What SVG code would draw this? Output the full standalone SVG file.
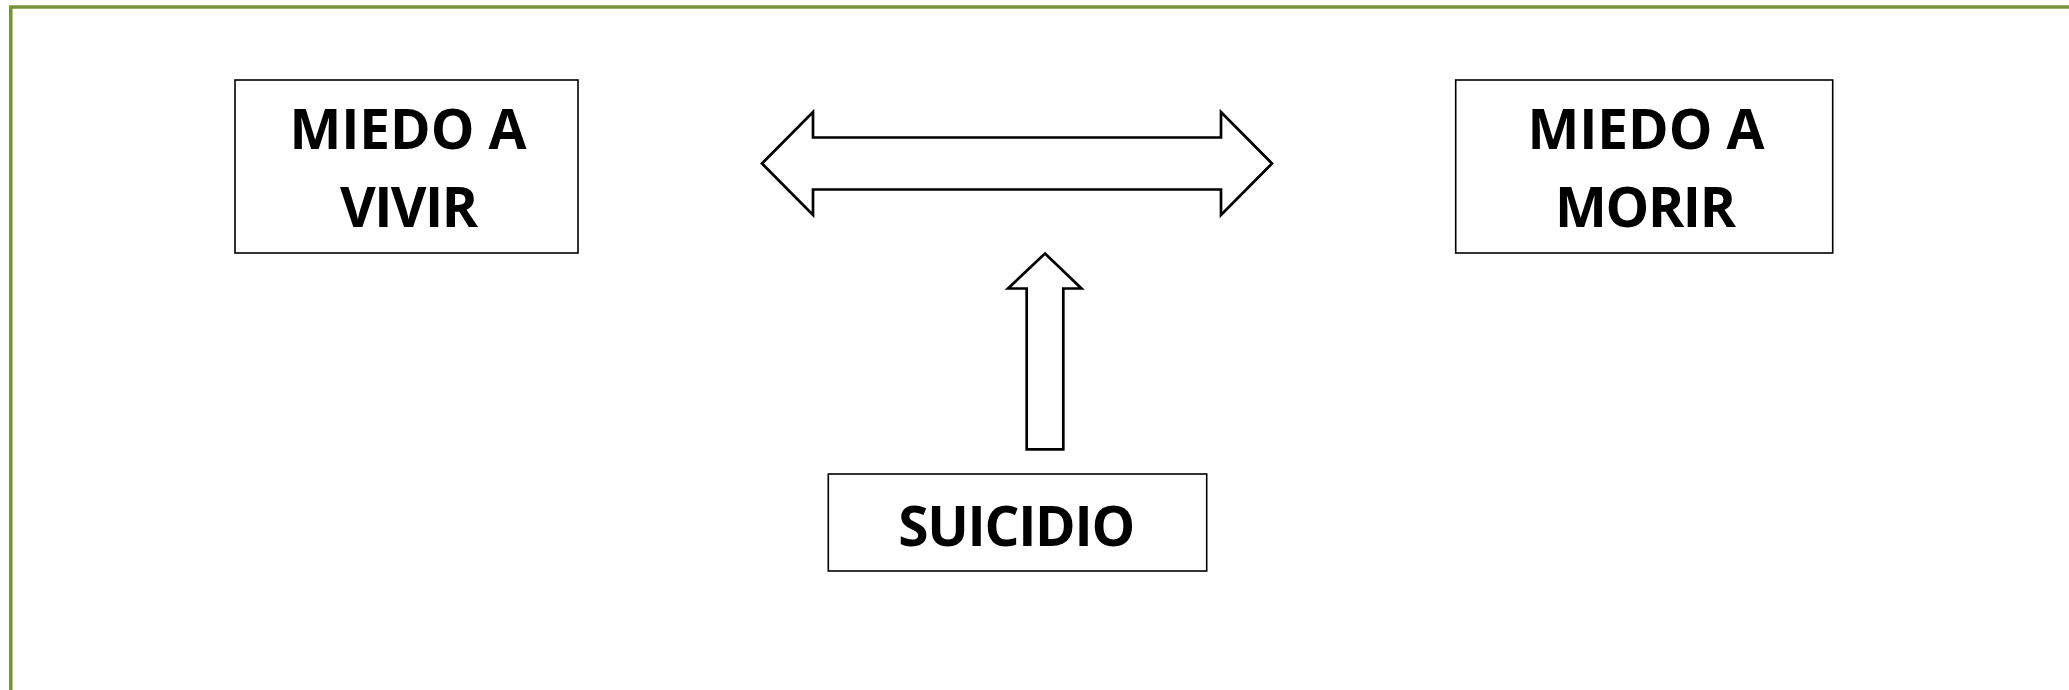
<svg xmlns="http://www.w3.org/2000/svg" width="2069" height="690" viewBox="0 0 2069 690">
  <style>
    .frame { fill: none; stroke: #77933C; stroke-width: 3.5; }
    .box { fill: #ffffff; stroke: #000000; stroke-width: 1.6; }
    .arrow { fill: #ffffff; stroke: #000000; stroke-width: 2.7; stroke-linejoin: miter; }
    .label { font-family: "Open Sans", Lato, "Liberation Sans", sans-serif; font-weight: 700; font-size: 55px; fill: #000000; text-anchor: middle; }
  </style>
  <rect x="0" y="0" width="2069" height="690" fill="#ffffff"/>
  <polyline class="frame" points="10.8,690 10.8,7 2069,7"/>

  <g id="connectors">
    <polygon class="arrow" points="762,163.5 813,112 813,137.5 1221,137.5 1221,112 1272,163.5 1221,215 1221,189.5 813,189.5 813,215"/>
    <polygon class="arrow" points="1045,253.5 1081.5,288.5 1063.3,288.5 1063.3,449.3 1026.7,449.3 1026.7,288.5 1008,288.5"/>
  </g>

  <g id="node-miedo-vivir">
    <rect class="box" x="235" y="80" width="343" height="173"/>
    <text class="label" x="408" y="149.3" textLength="237">MIEDO A</text>
    <text class="label" x="409" y="226.7" textLength="138">VIVIR</text>
  </g>

  <g id="node-miedo-morir">
    <rect class="box" x="1455.7" y="80" width="377" height="173"/>
    <text class="label" x="1646" y="149.3" textLength="237">MIEDO A</text>
    <text class="label" x="1645.5" y="226.7" textLength="181">MORIR</text>
  </g>

  <g id="node-suicidio">
    <rect class="box" x="828.3" y="474" width="378.4" height="97"/>
    <text class="label" x="1016.7" y="546" textLength="237">SUICIDIO</text>
  </g>
</svg>
